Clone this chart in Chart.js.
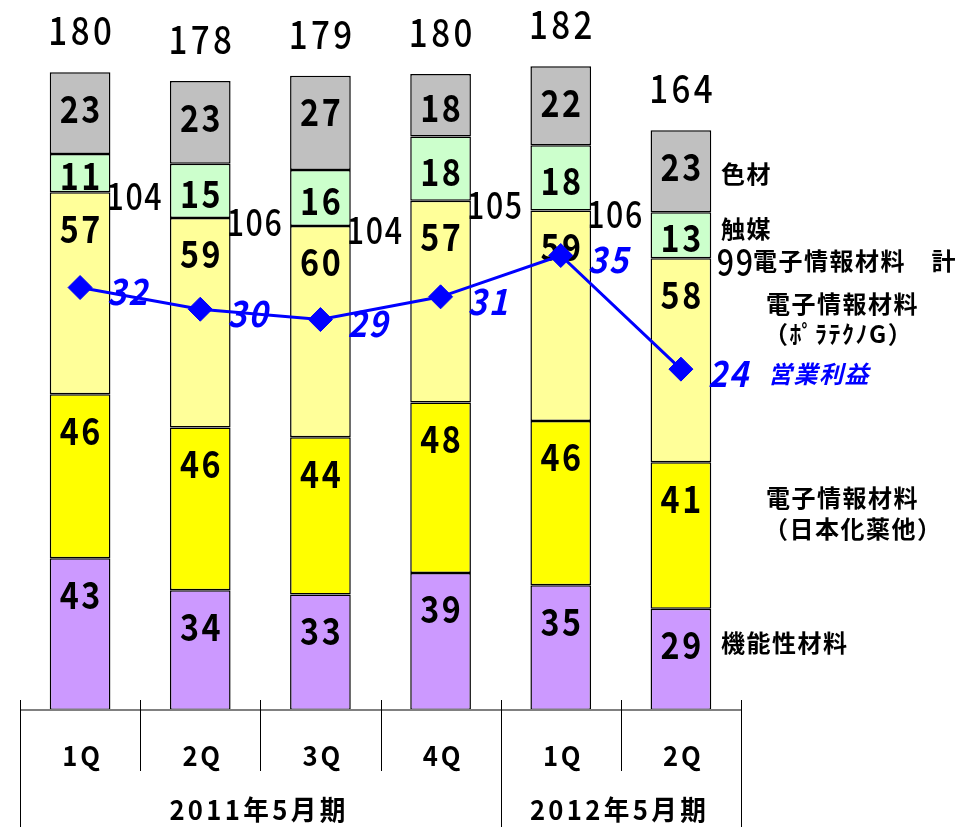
<!DOCTYPE html>
<html><head><meta charset="utf-8">
<script src="https://cdn.jsdelivr.net/npm/chart.js@4.4.1/dist/chart.umd.min.js"></script>
<style>html,body{margin:0;padding:0;background:#fff}#wrap{width:972px;height:827px;position:relative}</style>
</head><body><div id="wrap"><canvas id="c" width="972" height="827"></canvas></div>
<script>
// ---- data ----
const categories = ['1Q', '2Q', '3Q', '4Q', '1Q', '2Q'];
const periodLabels = ['2011年5月期', '2012年5月期'];
const periodSpans = [4, 2];

const functionalMaterials = [42.8, 33.8, 32.6, 38.7, 35.2, 28.6];   // 機能性材料
const electronicNippon    = [46.3, 45.9, 44.4, 48.1, 46.4, 41.3];   // 電子情報材料（日本化薬他）
const electronicPolatechno= [57.0, 59.2, 59.6, 56.9, 59.4, 57.6];   // 電子情報材料（ﾎﾟﾗﾃｸﾉG）
const catalysts           = [10.8, 15.3, 15.8, 18.2, 18.4, 13.0];   // 触媒
const colorants           = [23.1, 23.3, 26.6, 17.6, 22.3, 23.1];   // 色材
const salesTotals         = [180, 178, 179, 180, 182, 164];
const electronicTotals    = [104, 106, 104, 105, 106, 99];
const operatingProfit     = [31.9, 29.8, 28.8, 31.0, 35.0, 24.0];  // 営業利益

const seriesNames = ['機能性材料', '電子情報材料（日本化薬他）', '電子情報材料（ﾎﾟﾗﾃｸﾉG）', '触媒', '色材'];
const electronicTotalName = '電子情報材料　計';
const profitName = '営業利益';

// ---- styles ----
const FONT = '"Noto Sans CJK JP", "Noto Sans", sans-serif';
const segColors = ['#CC99FF', '#FFFF00', '#FFFF99', '#CCFFCC', '#C0C0C0'];
const segData = [functionalMaterials, electronicNippon, electronicPolatechno, catalysts, colorants];

function txt(ctx, s, x, y, font, color, align, spacing, sx) {
  sx = sx || 1;
  spacing = spacing || 0;
  ctx.save();
  ctx.font = font;
  ctx.fillStyle = color;
  ctx.textBaseline = 'middle';
  ctx.textAlign = 'left';
  ctx.letterSpacing = spacing + 'px';
  const w = (ctx.measureText(s).width - spacing) * sx;
  let left = x;
  if (align === 'center') left = x - w / 2;
  else if (align === 'right') left = x - w;
  ctx.translate(left, y);
  ctx.scale(sx, 1);
  ctx.fillText(s, 0, 0);
  ctx.restore();
}

const overlay = {
  id: 'overlay',
  afterDatasetDraw(chart, args) {
    const meta = args.meta;
    if (meta.type !== 'bar') return;
    const ctx = chart.ctx;
    const vals = chart.data.datasets[args.index].data;
    meta.data.forEach((el, i) => {
      const top = Math.min(el.y, el.base), h = Math.abs(el.base - el.y);
      const y = top + Math.min(h / 2 + 2.5, 36);
      txt(ctx, String(Math.round(vals[i])), el.x, y, 'bold 38px ' + FONT, '#000', 'center', 3, 0.85);
    });
  },
  afterDatasetsDraw(chart) {
    const ctx = chart.ctx;
    const metas = chart.getSortedVisibleDatasetMetas();
    const barMetas = metas.filter(m => m.type === 'bar').sort((a, b) => a.index - b.index);
    const topMeta = barMetas[barMetas.length - 1];
    const polMeta = barMetas[2];
    const lineMeta = metas.find(m => m.type === 'line');
    // totals
    topMeta.data.forEach((el, i) => {
      txt(ctx, String(salesTotals[i]), el.x, el.y - 42, '500 39px ' + FONT, '#000', 'center', 4, 0.85);
    });
    // electronic totals
    polMeta.data.forEach((el, i) => {
      txt(ctx, String(electronicTotals[i]), el.x + 54, el.y + 4, '500 37px ' + FONT, '#000', 'center', 2, 0.82);
    });
    // profit labels
    lineMeta.data.forEach((el, i) => {
      txt(ctx, String(Math.round(operatingProfit[i])), el.x + 27, el.y + 4, 'italic bold 36px ' + FONT, '#0000FF', 'left', 2, 0.9);
    });
    // side legend labels
    const lf = 'bold 24px ' + FONT;
    txt(ctx, seriesNames[4], 721, 174, lf, '#000', 'left', 1.5);
    txt(ctx, seriesNames[3], 721, 229, lf, '#000', 'left', 1.5);
    txt(ctx, electronicTotalName, 753, 261, lf, '#000', 'left', 1.5);
    txt(ctx, '電子情報材料', 766, 304, lf, '#000', 'left', 1.5);
    txt(ctx, '（ﾎﾟﾗﾃｸﾉG）', 764, 334, lf, '#000', 'left', 1.5);
    txt(ctx, profitName, 768, 374, 'italic bold 24px ' + FONT, '#0000FF', 'left', 1.5);
    txt(ctx, '電子情報材料', 766, 498, lf, '#000', 'left', 1.5);
    txt(ctx, '（日本化薬他）', 764, 529, lf, '#000', 'left', 1.5);
    txt(ctx, seriesNames[0], 721, 643, lf, '#000', 'left', 1.5);

    // x axis
    const ca = chart.chartArea;
    const xs = chart.scales.x;
    const n = categories.length;
    const step = (xs.right - xs.left) / n;
    const base = ca.bottom;
    ctx.save();
    ctx.strokeStyle = '#808080';
    ctx.lineWidth = 2;
    ctx.beginPath(); ctx.moveTo(xs.left, base); ctx.lineTo(xs.right, base); ctx.stroke();
    ctx.strokeStyle = '#000';
    ctx.lineWidth = 1;
    const groupEdges = [0];
    periodSpans.reduce((a, s) => { groupEdges.push(a + s); return a + s; }, 0);
    for (let i = 0; i <= n; i++) {
      const x = Math.round(xs.getPixelForValue(i) - step / 2) + 0.5;
      const long = groupEdges.includes(i);
      ctx.beginPath(); ctx.moveTo(x, base - 10); ctx.lineTo(x, long ? 827 : base + 61); ctx.stroke();
    }
    ctx.restore();
    categories.forEach((c, i) => {
      txt(ctx, c, xs.getPixelForValue(i) + 1, 756, 'bold 27px ' + FONT, '#000', 'center', 3, 0.95);
    });
    let start = 0;
    periodLabels.forEach((p, k) => {
      const a = xs.getPixelForValue(start) - step / 2;
      const b = xs.getPixelForValue(start + periodSpans[k] - 1) + step / 2;
      txt(ctx, p, (a + b) / 2 - 3, 810, 'bold 27px ' + FONT, '#000', 'center', 3.5, 0.95);
      start += periodSpans[k];
    });
  }
};

const datasets = [{
  type: 'line',
  label: profitName,
  data: operatingProfit,
  yAxisID: 'y2',
  borderColor: '#0000FF',
  backgroundColor: '#0000FF',
  borderWidth: 3,
  pointStyle: 'rectRot',
  pointRadius: 12,
  pointBorderWidth: 1,
  tension: 0,
  order: 0
}];
segData.forEach((d, k) => {
  datasets.push({
    type: 'bar',
    label: seriesNames[k],
    data: d,
    yAxisID: 'y',
    backgroundColor: segColors[k],
    borderColor: '#000',
    borderWidth: 1.5,
    borderSkipped: false,
    barPercentage: 0.505,
    categoryPercentage: 1,
    stack: 's',
    order: 1
  });
});

new Chart(document.getElementById('c'), {
  type: 'bar',
  data: { labels: categories, datasets },
  options: {
    responsive: false,
    animation: false,
    devicePixelRatio: 1,
    layout: { autoPadding: false, padding: { left: 20, right: 231, top: 1.4, bottom: 117 } },
    plugins: { legend: { display: false }, tooltip: { enabled: false } },
    scales: {
      x: { display: false, stacked: true },
      y: { display: false, stacked: true, min: 0, max: 200 },
      y2: { display: false, min: -9, max: 59.6 }
    }
  },
  plugins: [overlay]
});
</script>
</body></html>
